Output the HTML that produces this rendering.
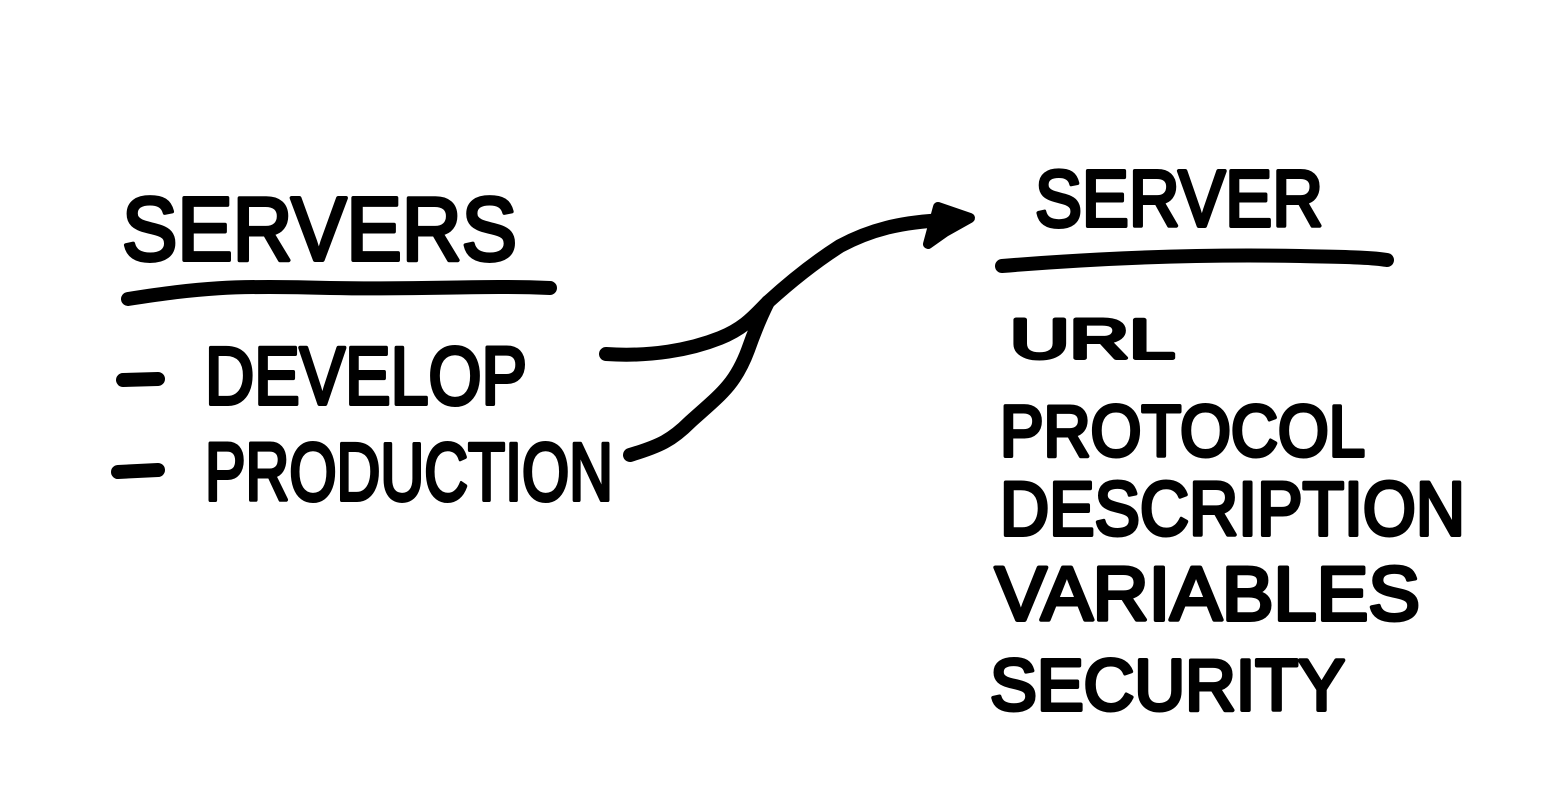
<!DOCTYPE html>
<html><head><meta charset="utf-8"><style>
html,body{margin:0;padding:0;background:#fff;}
svg{display:block}
text{font-family:"Liberation Sans",sans-serif;font-weight:normal;fill:#000;stroke:#000;stroke-width:4;stroke-linejoin:round}
</style></head><body>
<svg width="1554" height="796" viewBox="0 0 1554 796">
<g fill="none" stroke="#000" stroke-width="14" stroke-linecap="round" stroke-linejoin="round">
<path d="M128 299 C200 288 230 285 330 288 C430 290 480 285 550 288"/>
<path d="M1002 266 C1100 258 1200 254 1300 256 C1340 257 1370 257 1387 260"/>
<path d="M123 380 L158 379"/>
<path d="M118 472 L158 470"/>
<path d="M606 354 C650 357 690 350 720 338 C745 328 755 315 768 302 C790 282 815 262 840 246 C870 230 900 222 945 220"/>
<path d="M630 455 C660 446 672 440 690 422 C720 395 735 385 748 350 C755 330 760 318 768 302"/>
</g>
<path d="M938 207 L970 218 L945 232 L928 244 Z" fill="#000" stroke="#000" stroke-width="10" stroke-linejoin="round"/>
<text x="122" y="260" font-size="90" textLength="395" lengthAdjust="spacingAndGlyphs">SERVERS</text>
<text x="205" y="404" font-size="82" textLength="322" lengthAdjust="spacingAndGlyphs">DEVELOP</text>
<text x="205" y="500" font-size="82" textLength="408" lengthAdjust="spacingAndGlyphs">PRODUCTION</text>
<text x="1035" y="226" font-size="80" textLength="288" lengthAdjust="spacingAndGlyphs">SERVER</text>
<text x="1010" y="358" font-size="56" textLength="165" lengthAdjust="spacingAndGlyphs">URL</text>
<text x="1000" y="456" font-size="72" textLength="365" lengthAdjust="spacingAndGlyphs">PROTOCOL</text>
<text x="1000" y="535" font-size="76" textLength="465" lengthAdjust="spacingAndGlyphs">DESCRIPTION</text>
<text x="995" y="620" font-size="76" textLength="425" lengthAdjust="spacingAndGlyphs">VARIABLES</text>
<text x="990" y="710" font-size="72" textLength="355" lengthAdjust="spacingAndGlyphs">SECURITY</text>
</svg>
</body></html>
